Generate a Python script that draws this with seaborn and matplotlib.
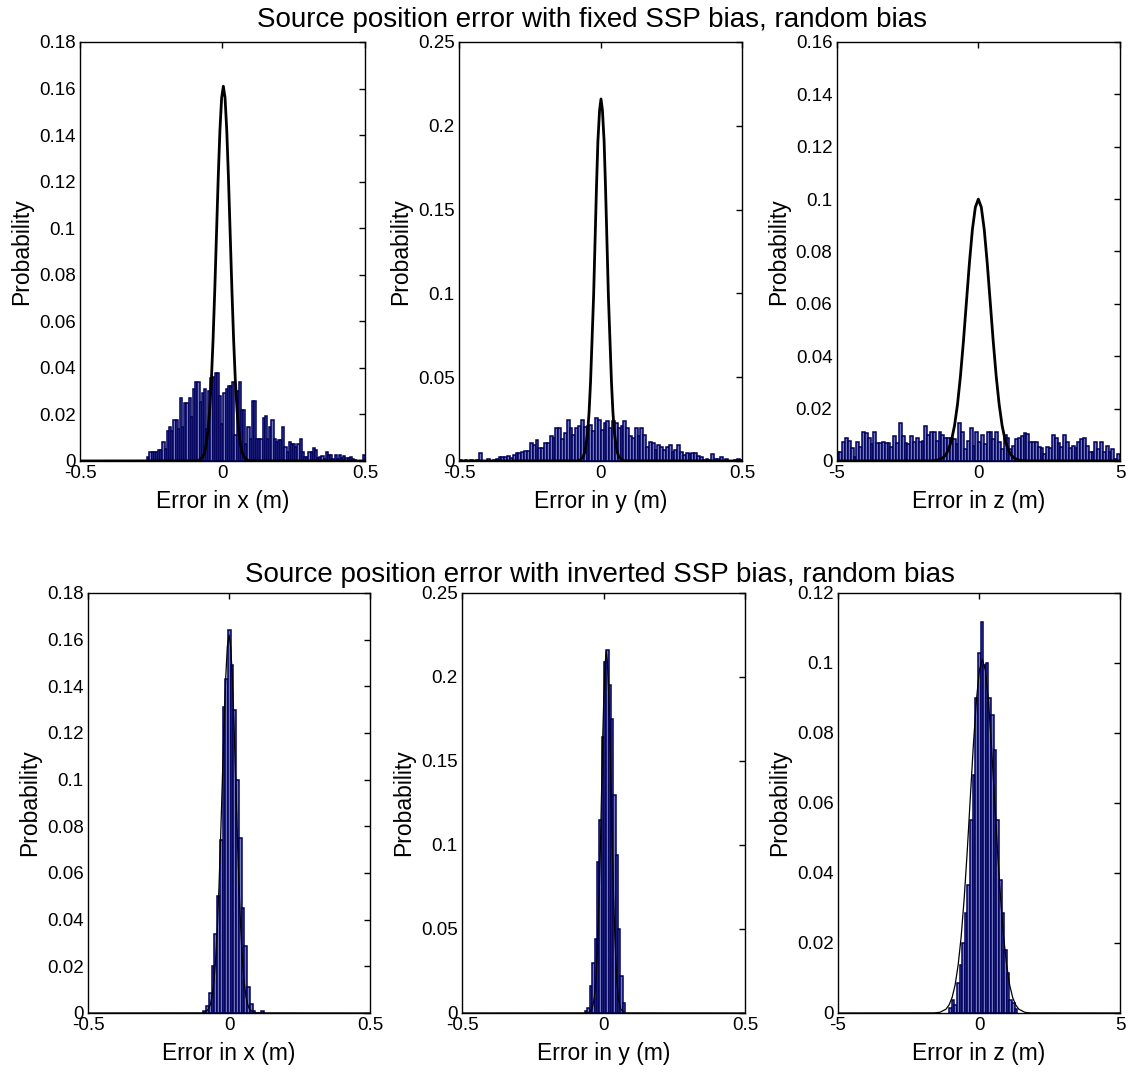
import numpy as np
import pandas as pd
import matplotlib
matplotlib.use("Agg")
import matplotlib.pyplot as plt
from matplotlib.ticker import FuncFormatter
import seaborn as sns

# ---------------- data ----------------
# Top-left: error in x, fixed SSP bias (bin start, bin width, heights)
tl_bin_start = -0.264
tl_bin_width = 0.00764
tl_heights = [0.0017, 0.004, 0.004, 0.004, 0.004, 0.0046, 0.0046, 0.008, 0.005, 0.0128,
              0.0147, 0.0128, 0.0178, 0.0178, 0.0137, 0.027, 0.0147, 0.0247, 0.0247, 0.027,
              0.0187, 0.031, 0.034, 0.034, 0.0255, 0.029, 0.031, 0.0137, 0.03, 0.0355,
              0.036, 0.0377, 0.0377, 0.028, 0.016, 0.029, 0.031, 0.032, 0.032, 0.034,
              0.011, 0.03, 0.034, 0.022, 0.022, 0.0075, 0.0147, 0.0096, 0.0258, 0.0258,
              0.0096, 0.0096, 0.0096, 0.0185, 0.0194, 0.0096, 0.0147, 0.0175, 0.0096, 0.008,
              0.009, 0.009, 0.0147, 0.006, 0.004, 0.008, 0.0075, 0.0075, 0.006, 0.0075,
              0.0096, 0.004, 0.0017, 0.0017, 0.004, 0.004, 0.0056, 0.0046, 0.0013, 0.0017,
              0.0021, 0.001, 0.004, 0.0024, 0.0024, 0.001, 0.0024, 0.001, 0.0024, 0.0013,
              0.0021, 0.0013, 0.0013, 0.0019, 0.001, 0.0006, 0.0, 0.0, 0.0, 0.0024]
tl_curve_x = [-0.5, -0.093, -0.081, -0.069, -0.063, -0.057, -0.051, -0.045, -0.039, -0.033,
              -0.027, -0.021, -0.015, -0.009, -0.003, 0.003, 0.009, 0.015, 0.021, 0.027,
              0.033, 0.039, 0.045, 0.051, 0.057, 0.063, 0.069, 0.075, 0.087, 0.099, 0.5]
tl_curve_y = [0, 0.00005, 0.0004, 0.0018, 0.0037, 0.0071, 0.0128, 0.0218, 0.0348, 0.0523,
              0.0737, 0.0976, 0.1215, 0.142, 0.156, 0.161, 0.156, 0.142, 0.1215, 0.0976,
              0.0737, 0.0523, 0.0348, 0.0218, 0.0128, 0.0071, 0.0037, 0.0018, 0.0004, 0.00005, 0]

# Top-middle: error in y, fixed SSP bias
tm_bin_start = -0.5
tm_bin_width = 0.01
tm_heights = [0.0006, 0.0, 0.0006, 0.0, 0.0006, 0.0, 0.0006, 0.0046, 0.0, 0.0,
              0.0012, 0.0, 0.0006, 0.001, 0.0026, 0.0026, 0.0026, 0.003, 0.0016, 0.0036,
              0.0046, 0.005, 0.0056, 0.0062, 0.0062, 0.0106, 0.0096, 0.0126, 0.008, 0.0076,
              0.0106, 0.0106, 0.0146, 0.0136, 0.0196, 0.0196, 0.013, 0.0166, 0.0246, 0.0196,
              0.0156, 0.0196, 0.0206, 0.0246, 0.02, 0.0206, 0.0216, 0.0176, 0.0256, 0.0246,
              0.0186, 0.0226, 0.0236, 0.0196, 0.0236, 0.0226, 0.0196, 0.0206, 0.0236, 0.0196,
              0.0146, 0.0136, 0.0196, 0.0146, 0.0196, 0.0156, 0.0086, 0.0116, 0.0106, 0.0066,
              0.0096, 0.0086, 0.0066, 0.0086, 0.0096, 0.0056, 0.0066, 0.0096, 0.0056, 0.0036,
              0.0046, 0.0042, 0.0046, 0.0046, 0.003, 0.0022, 0.0006, 0.0012, 0.0006, 0.0042,
              0.0012, 0.001, 0.0026, 0.0002, 0.001, 0.0, 0.0, 0.0006, 0.001, 0.0006]
tm_curve_x = [-0.5, -0.083, -0.073, -0.062, -0.057, -0.052, -0.046, -0.041, -0.036, -0.031,
              -0.025, -0.020, -0.015, -0.010, -0.004, 0.001, 0.006, 0.012, 0.017, 0.022,
              0.027, 0.033, 0.038, 0.043, 0.048, 0.054, 0.059, 0.064, 0.075, 0.085, 0.5]
tm_curve_y = [0, 0.00006, 0.0005, 0.0024, 0.0049, 0.0095, 0.0172, 0.0292, 0.0467, 0.0701,
              0.0989, 0.131, 0.163, 0.1906, 0.2094, 0.216, 0.2094, 0.1906, 0.163, 0.131,
              0.0989, 0.0701, 0.0467, 0.0292, 0.0172, 0.0095, 0.0049, 0.0024, 0.0005, 0.00006, 0]

# Top-right: error in z, fixed SSP bias
tr_bin_start = -5.0
tr_bin_width = 0.1
tr_heights = [0.0036, 0.0036, 0.0074, 0.0087, 0.0078, 0.0049, 0.0015, 0.0074, 0.0053, 0.0112,
              0.0107, 0.0087, 0.0065, 0.0112, 0.0069, 0.0069, 0.0074, 0.0069, 0.0069, 0.0053,
              0.0094, 0.0069, 0.0145, 0.0097, 0.0069, 0.0065, 0.0094, 0.0072, 0.0087, 0.0072,
              0.0078, 0.0135, 0.0099, 0.0109, 0.0112, 0.0078, 0.0112, 0.0099, 0.0087, 0.0087,
              0.0087, 0.0084, 0.0065, 0.0145, 0.0109, 0.0047, 0.0078, 0.0125, 0.0059, 0.0109,
              0.0074, 0.0099, 0.0065, 0.0109, 0.0112, 0.0084, 0.0112, 0.0072, 0.0047, 0.0099,
              0.0087, 0.0047, 0.0059, 0.0082, 0.0087, 0.0097, 0.0107, 0.0103, 0.0072, 0.0074,
              0.0074, 0.0053, 0.0049, 0.0028, 0.0053, 0.0049, 0.0099, 0.0087, 0.0069, 0.0053,
              0.0099, 0.0072, 0.0049, 0.0059, 0.0049, 0.0072, 0.0084, 0.0087, 0.0059, 0.0036,
              0.0036, 0.0074, 0.0047, 0.0074, 0.0034, 0.0059, 0.0034, 0.0047, 0.0009, 0.0028]
tr_curve_x = [-5, -1.68, -1.47, -1.26, -1.155, -1.05, -0.945, -0.84, -0.735, -0.63,
              -0.525, -0.42, -0.315, -0.21, -0.105, 0.0, 0.105, 0.21, 0.315, 0.42,
              0.525, 0.63, 0.735, 0.84, 0.945, 1.05, 1.155, 1.26, 1.47, 1.68, 5]
tr_curve_y = [0, 0.00003, 0.0002, 0.0011, 0.0023, 0.0044, 0.008, 0.0135, 0.0216, 0.0325,
              0.0458, 0.0607, 0.0755, 0.0883, 0.0969, 0.1, 0.0969, 0.0883, 0.0755, 0.0607,
              0.0458, 0.0325, 0.0216, 0.0135, 0.008, 0.0044, 0.0023, 0.0011, 0.0002, 0.00003, 0]

# Bottom-left: error in x, inverted SSP bias
bl_bin_start = -0.091
bl_bin_width = 0.0097
bl_heights = [0.001, 0.003, 0.0085, 0.02, 0.034, 0.05, 0.074, 0.131, 0.143, 0.164,
              0.149, 0.13, 0.1, 0.075, 0.045, 0.0286, 0.011, 0.004, 0.001, 0.0,
              0.0, 0.001]
bl_curve_x = [-0.5, -0.096, -0.084, -0.072, -0.066, -0.060, -0.054, -0.048, -0.042, -0.036,
              -0.030, -0.024, -0.018, -0.012, -0.006, 0.0, 0.006, 0.012, 0.018, 0.024,
              0.030, 0.036, 0.042, 0.048, 0.054, 0.060, 0.066, 0.072, 0.084, 0.096, 0.5]
bl_curve_y = [0, 0.00005, 0.0004, 0.0018, 0.0037, 0.0071, 0.0129, 0.0219, 0.035, 0.0526,
              0.0742, 0.0983, 0.1223, 0.143, 0.157, 0.162, 0.157, 0.143, 0.1223, 0.0983,
              0.0742, 0.0526, 0.035, 0.0219, 0.0129, 0.0071, 0.0037, 0.0018, 0.0004, 0.00005, 0]

# Bottom-middle: error in y, inverted SSP bias
bm_bin_start = -0.065
bm_bin_width = 0.0083
bm_heights = [0.0014, 0.003, 0.016, 0.03, 0.044, 0.09, 0.115, 0.164, 0.209, 0.216,
              0.195, 0.175, 0.13, 0.094, 0.05, 0.022, 0.006]
bm_curve_x = [-0.5, -0.058, -0.0495, -0.041, -0.037, -0.0325, -0.028, -0.024, -0.020, -0.0155,
              -0.011, -0.007, -0.003, 0.0015, 0.006, 0.01, 0.014, 0.0185, 0.023, 0.027,
              0.031, 0.0355, 0.04, 0.044, 0.048, 0.0525, 0.057, 0.061, 0.0695, 0.078, 0.5]
bm_curve_y = [0, 0.00006, 0.0005, 0.0024, 0.0049, 0.0094, 0.0171, 0.0291, 0.0465, 0.0698,
              0.0984, 0.1304, 0.1623, 0.1897, 0.2084, 0.215, 0.2084, 0.1897, 0.1623, 0.1304,
              0.0984, 0.0698, 0.0465, 0.0291, 0.0171, 0.0094, 0.0049, 0.0024, 0.0005, 0.00006, 0]

# Bottom-right: error in z, inverted SSP bias
br_bin_start = -1.06
br_bin_width = 0.093
br_heights = [0.0013, 0.0037, 0.0023, 0.0085, 0.0137, 0.02, 0.0285, 0.0366, 0.055, 0.068,
              0.090, 0.1028, 0.1118, 0.0994, 0.0999, 0.09, 0.085, 0.075, 0.055, 0.038,
              0.0285, 0.018, 0.0113, 0.0037, 0.0028, 0.001]
br_curve_x = [-5, -1.6, -1.385, -1.17, -1.0625, -0.955, -0.8475, -0.74, -0.6325, -0.525,
              -0.4175, -0.31, -0.2025, -0.095, 0.0125, 0.12, 0.2275, 0.335, 0.4425, 0.55,
              0.6575, 0.765, 0.8725, 0.98, 1.0875, 1.195, 1.3025, 1.41, 1.625, 1.84, 5]
br_curve_y = [0, 0.00003, 0.0002, 0.0011, 0.0023, 0.0044, 0.008, 0.0137, 0.0218, 0.0328,
              0.0462, 0.0613, 0.0762, 0.0891, 0.0979, 0.101, 0.0979, 0.0891, 0.0762, 0.0613,
              0.0462, 0.0328, 0.0218, 0.0137, 0.008, 0.0044, 0.0023, 0.0011, 0.0002, 0.00003, 0]

xlabels = ["Error in x (m)", "Error in y (m)", "Error in z (m)"]
ylabel = "Probability"
title_top = "Source position error with fixed SSP bias, random bias"
title_bottom = "Source position error with inverted SSP bias, random bias"

# ---------------- style ----------------
sns.set_style("white")
plt.rcParams["font.family"] = ["Liberation Sans", "DejaVu Sans"]
plt.rcParams.update({
    "xtick.direction": "in", "ytick.direction": "in",
    "xtick.top": True, "ytick.right": True,
    "axes.edgecolor": "black", "axes.linewidth": 1.0,
    "text.color": "black", "axes.labelcolor": "black",
    "xtick.color": "black", "ytick.color": "black",
})

FACE = "#7279bf"
EDGE = "#00005c"

fig = plt.figure(figsize=(11.36, 10.74), dpi=100)

panels = [
    ([0.0704, 0.5708, 0.2509, 0.3901], tl_bin_start, tl_bin_width, tl_heights, tl_curve_x, tl_curve_y,
     (-0.5, 0.5), (0, 0.18), np.arange(0, 0.181, 0.02), xlabels[0], 2.0),
    ([0.4040, 0.5708, 0.2496, 0.3901], tm_bin_start, tm_bin_width, tm_heights, tm_curve_x, tm_curve_y,
     (-0.5, 0.5), (0, 0.25), np.arange(0, 0.251, 0.05), xlabels[1], 2.0),
    ([0.7365, 0.5708, 0.2494, 0.3901], tr_bin_start, tr_bin_width, tr_heights, tr_curve_x, tr_curve_y,
     (-5, 5), (0, 0.16), np.arange(0, 0.161, 0.02), xlabels[2], 2.0),
    ([0.0775, 0.0568, 0.2482, 0.3911], bl_bin_start, bl_bin_width, bl_heights, bl_curve_x, bl_curve_y,
     (-0.5, 0.5), (0, 0.18), np.arange(0, 0.181, 0.02), xlabels[0], 0.9),
    ([0.4067, 0.0568, 0.2491, 0.3911], bm_bin_start, bm_bin_width, bm_heights, bm_curve_x, bm_curve_y,
     (-0.5, 0.5), (0, 0.25), np.arange(0, 0.251, 0.05), xlabels[1], 0.9),
    ([0.7377, 0.0568, 0.2482, 0.3911], br_bin_start, br_bin_width, br_heights, br_curve_x, br_curve_y,
     (-5, 5), (0, 0.12), np.arange(0, 0.121, 0.02), xlabels[2], 0.9),
]

fmt = FuncFormatter(lambda v, p: "%g" % round(v, 4))

for rect, b0, bw, hts, cx, cy, xl, yl, yt, xlab, clw in panels:
    ax = fig.add_axes(rect)
    n = len(hts)
    centers = b0 + bw * (np.arange(n) + 0.5)
    df = pd.DataFrame({"x": centers, "w": hts})
    sns.histplot(data=df, x="x", weights="w", bins=n, binrange=(b0, b0 + bw * n),
                 stat="count", ax=ax, color=FACE, edgecolor=EDGE, linewidth=1.1,
                 alpha=1.0, zorder=2)
    cdf = pd.DataFrame({"x": cx, "y": cy})
    sns.lineplot(data=cdf, x="x", y="y", ax=ax, color="black", linewidth=clw,
                 estimator=None, sort=False, zorder=3)
    ax.set_xlim(*xl)
    ax.set_ylim(*yl)
    ax.set_xticks([xl[0], 0, xl[1]])
    ax.set_yticks(yt)
    ax.xaxis.set_major_formatter(fmt)
    ax.yaxis.set_major_formatter(fmt)
    ax.tick_params(axis="both", which="major", labelsize=13.5, length=4, width=1,
                   direction="in", top=True, right=True, pad=3, colors="black")
    ax.set_xlabel(xlab, fontsize=16.5, labelpad=6, color="black")
    ax.set_ylabel(ylabel, fontsize=16.5, labelpad=4, color="black")
    for s in ax.spines.values():
        s.set_visible(True)
        s.set_color("black")
        s.set_linewidth(1.0)
    ax.set_facecolor("white")
    ax.grid(False)

fig.text(592 / 1136, 1 - 20 / 1074, title_top, ha="center", va="center", fontsize=20, color="black")
fig.text(600 / 1136, 1 - 575 / 1074, title_bottom, ha="center", va="center", fontsize=20, color="black")

fig.savefig("out.png", dpi=100, facecolor="white")
